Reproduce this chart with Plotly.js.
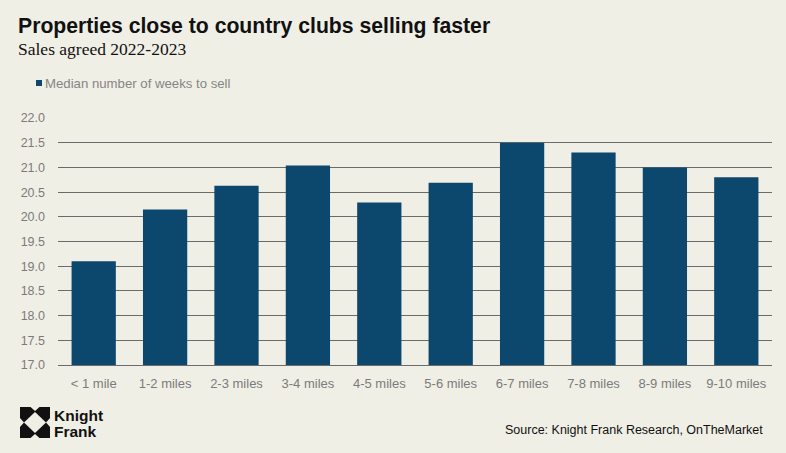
<!DOCTYPE html>
<html>
<head>
<meta charset="utf-8">
<script src="https://cdn.plot.ly/plotly-3.0.1.min.js"></script>
<style>
html,body{margin:0;padding:0;background:#f0efe6;}
#chart{width:786px;height:453px;}
</style>
</head>
<body>
<div id="chart"></div>
<script>
const categories = ["< 1 mile","1-2 miles","2-3 miles","3-4 miles","4-5 miles","5-6 miles","6-7 miles","7-8 miles","8-9 miles","9-10 miles"];
const medianWeeks = [19.1, 20.15, 20.63, 21.04, 20.29, 20.69, 21.5, 21.3, 21.0, 20.8];
const yTicks = [17.0, 17.5, 18.0, 18.5, 19.0, 19.5, 20.0, 20.5, 21.0, 21.5, 22.0];
const seriesName = "Median number of weeks to sell";
const titleText = "Properties close to country clubs selling faster";
const subtitleText = "Sales agreed 2022-2023";
const sourceText = "Source: Knight Frank Research, OnTheMarket";

const W = 786, H = 453;
const M = {l:58, r:14, t:118, b:88};
const pw = W - M.l - M.r, ph = H - M.t - M.b;
const px = x => (x - M.l) / pw;
const py = y => (H - M.b - y) / ph;

const barColor = "#0c476e";
const grey = "#7b7b7b";
const sans = "Liberation Sans, Arial, sans-serif";

const trace = {
  type: "bar",
  x: categories,
  y: medianWeeks,
  name: seriesName,
  marker: {color: barColor},
  hoverinfo: "x+y",
  showlegend: false
};

const layout = {
  width: W, height: H,
  margin: M,
  paper_bgcolor: "#f0efe6",
  plot_bgcolor: "#f0efe6",
  bargap: 0.38,
  font: {family: sans, color: grey, size: 12.5},
  xaxis: {
    type: "category",
    showgrid: false,
    showline: true, linecolor: "#6b6b6b", linewidth: 1,
    ticks: "", ticklabelstandoff: 6,
    tickfont: {family: sans, size: 13, color: grey},
    fixedrange: true
  },
  yaxis: {
    range: [17, 22.001],
    tickvals: yTicks,
    ticktext: yTicks.map(v => v.toFixed(1)),
    showgrid: true, gridcolor: "#6b6b6b", gridwidth: 1,
    zeroline: false, showline: false,
    ticks: "", ticklabelstandoff: 12,
    tickfont: {family: sans, size: 12.5, color: grey},
    fixedrange: true
  },
  shapes: [
    // legend swatch
    {type:"rect", xref:"paper", yref:"paper", x0:px(36), x1:px(42), y0:py(86), y1:py(80), fillcolor:barColor, line:{width:0}},
    // Knight Frank logo mark
    {type:"path", xref:"paper", yref:"paper", xsizemode:"pixel", ysizemode:"pixel", xanchor:px(20), yanchor:py(407),
     path:"M0,0 L30,0 L30,-31 L0,-31 Z", fillcolor:"#111111", line:{width:0}},
    {type:"path", xref:"paper", yref:"paper", xsizemode:"pixel", ysizemode:"pixel", xanchor:px(20), yanchor:py(407),
     path:"M15,-5 L26,-15.5 L15,-26 L4,-15.5 Z", fillcolor:"#f0efe6", line:{width:0}},
    {type:"path", xref:"paper", yref:"paper", xsizemode:"pixel", ysizemode:"pixel", xanchor:px(20), yanchor:py(407),
     path:"M10,0.5 L15,-4 L20,0.5 Z", fillcolor:"#f0efe6", line:{width:0}},
    {type:"path", xref:"paper", yref:"paper", xsizemode:"pixel", ysizemode:"pixel", xanchor:px(20), yanchor:py(407),
     path:"M10,-31.5 L15,-27 L20,-31.5 Z", fillcolor:"#f0efe6", line:{width:0}},
    {type:"path", xref:"paper", yref:"paper", xsizemode:"pixel", ysizemode:"pixel", xanchor:px(20), yanchor:py(407),
     path:"M-0.5,-10.5 L4,-15.5 L-0.5,-20.5 Z", fillcolor:"#f0efe6", line:{width:0}},
    {type:"path", xref:"paper", yref:"paper", xsizemode:"pixel", ysizemode:"pixel", xanchor:px(20), yanchor:py(407),
     path:"M30.5,-10.5 L26,-15.5 L30.5,-20.5 Z", fillcolor:"#f0efe6", line:{width:0}}
  ],
  annotations: [
    {text:"<b>"+titleText+"</b>", xref:"paper", yref:"paper", x:px(16), y:py(26), xanchor:"left", yanchor:"middle", showarrow:false,
     font:{family:sans, size:21.2, color:"#111111"}},
    {text:subtitleText, xref:"paper", yref:"paper", x:px(16), y:py(49), xanchor:"left", yanchor:"middle", showarrow:false,
     font:{family:"Liberation Serif, Georgia, serif", size:17.5, color:"#111111"}},
    {text:seriesName, xref:"paper", yref:"paper", x:px(43), y:py(83), xanchor:"left", yanchor:"middle", showarrow:false,
     font:{family:sans, size:13.2, color:"#858585"}},
    {text:sourceText, xref:"paper", yref:"paper", x:px(765), y:py(430), xanchor:"right", yanchor:"middle", showarrow:false,
     font:{family:sans, size:12.5, color:"#111111"}},
    {text:"<b>Knight</b>", xref:"paper", yref:"paper", x:px(51.5), y:py(415), xanchor:"left", yanchor:"middle", showarrow:false,
     font:{family:sans, size:15.5, color:"#111111"}},
    {text:"<b>Frank</b>", xref:"paper", yref:"paper", x:px(51.5), y:py(431), xanchor:"left", yanchor:"middle", showarrow:false,
     font:{family:sans, size:15.5, color:"#111111"}}
  ]
};

Plotly.newPlot("chart", [trace], layout, {displayModeBar:false, staticPlot:true});
</script>
</body>
</html>
